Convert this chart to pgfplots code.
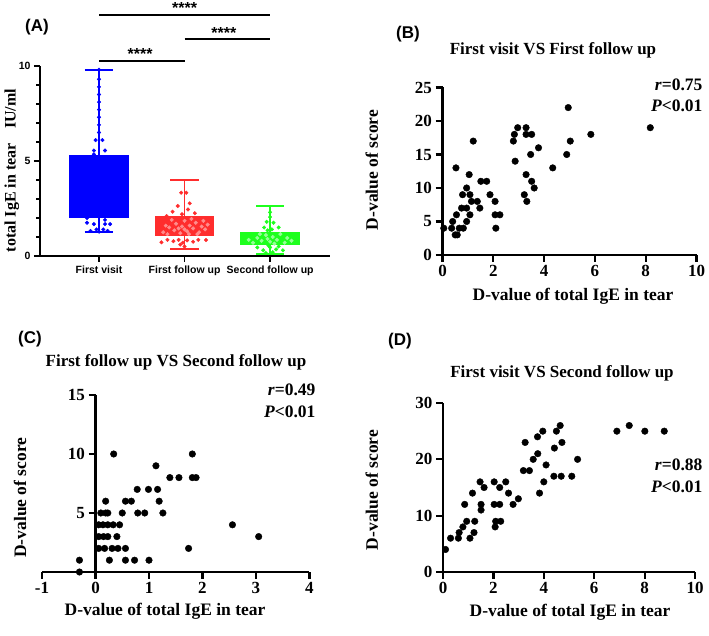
\documentclass[border=0pt]{standalone}
\usepackage{fontspec}
\setmainfont{Liberation Serif}
\newfontfamily\arialfont{Liberation Sans}
\usepackage{pgfplots}
\pgfplotsset{compat=1.18}
\usepgfplotslibrary{statistics}
\definecolor{pblue}{RGB}{0,0,255}
\definecolor{pred}{RGB}{255,45,45}
\definecolor{pgreen}{RGB}{30,255,30}
\definecolor{plred}{RGB}{255,140,140}
\definecolor{plgreen}{RGB}{150,255,150}
\pgfplotsset{
  scat/.style={scale only axis, anchor=south west, axis x line=bottom, axis y line=left,
    axis line style={-, line width=2.2pt}, tick align=outside, tick style={line width=2.2pt, black},
    major tick length=7pt, ticklabel style={font=\bfseries\fontsize{17}{19}\selectfont},
    clip=false},
  dots/.style={only marks, mark=*, mark size=3.3pt, black},
}
\begin{document}
\begin{tikzpicture}[x=1pt,y=1pt]
\useasboundingbox (0,0) rectangle (709,636);
% ---------------- Panel A
\begin{axis}[at={(40pt,380pt)}, anchor=south west, scale only axis, width=290pt, height=190pt,
  xmin=-0.69, xmax=2.7, ymin=0, ymax=10, boxplot/draw direction=y,
  axis x line=bottom, axis y line=left, axis line style={-, line width=1.8pt},
  tick align=outside, tick style={line width=1.5pt, black}, major tick length=6pt, minor tick length=3.5pt,
  xtick={0,1,2}, xticklabels={First visit, First follow up, Second follow up},
  ytick={0,5,10}, yticklabels={0,5,10}, minor ytick={1,2,3,4,6,7,8,9},
  ticklabel style={font=\arialfont\bfseries\fontsize{10.5}{12}\selectfont},
  ylabel={total IgE in tear\hspace{0.9em}IU/ml},
  every axis y label/.style={at={(axis description cs:-0.097,0.45)}, rotate=90, anchor=center, font=\bfseries\fontsize{16}{18}\selectfont},
  clip=false]
\addplot[boxplot prepared={lower whisker=1.28, lower quartile=2.07, median=3.5, upper quartile=5.26, upper whisker=9.79, draw position=0, box extend=0.675, whisker extend=0.33}, draw=pblue, fill=pblue, line width=1.8pt, solid] coordinates {};
\addplot[boxplot prepared={lower whisker=0.35, lower quartile=1.1, median=1.5, upper quartile=2.07, upper whisker=4.0, draw position=1, box extend=0.675, whisker extend=0.33}, draw=pred, fill=pred, line width=1.8pt, solid] coordinates {};
\addplot[boxplot prepared={lower whisker=0.1, lower quartile=0.62, median=0.9, upper quartile=1.23, upper whisker=2.65, draw position=2, box extend=0.675, whisker extend=0.33}, draw=pgreen, fill=pgreen, line width=1.8pt, solid] coordinates {};
% points
\addplot[only marks, mark=*, mark size=1.8pt, pblue] coordinates {
(0,9.8)(0,9.3)(0,8.9)(0,8.5)(0,8.1)(0,7.7)(0,7.3)(0,6.9)(0,6.5)(-0.04,6.1)(0.04,6.1)
(-0.06,5.55)(0.07,5.55)(-0.06,5.35)(0,3.0)(0.1,4.0)(-0.1,2.5)
(-0.14,2.0)(-0.14,1.75)(-0.06,1.68)(0.07,1.9)(0.13,1.68)(0.07,1.68)(-0.03,1.4)(0.05,1.4)(0,1.28)(-0.1,1.32)(0.1,1.32)};
\addplot[only marks, mark=*, mark size=1.8pt, plred] coordinates {
(0.75,1.25)(0.82,1.5)(0.88,1.35)(0.9,1.7)(0.95,1.2)(0.97,1.55)(1.0,1.85)(1.03,1.3)(1.06,1.6)(1.1,1.45)
(1.13,1.75)(1.17,1.25)(1.2,1.55)(1.24,1.4)(1.27,1.65)(0.78,1.6)(0.85,1.9)(1.08,1.95)(0.93,1.45)(1.15,1.15)
(0.8,1.15)(1.22,1.85)(1.0,1.4)(1.05,1.15)};
\addplot[only marks, mark=*, mark size=1.8pt, pred] coordinates {
(0.96,3.33)(1.02,3.33)(1.06,2.77)(0.92,2.63)(0.86,2.33)(1.12,2.25)(0.79,2.1)(0.97,2.2)(1.04,2.45)
(0.73,0.72)(0.8,0.85)(0.87,0.78)(0.93,0.85)(0.98,0.7)(1.03,0.82)(1.1,0.75)(1.16,0.85)(1.25,0.84)(1.0,0.5)(0.95,0.6)};
\addplot[only marks, mark=*, mark size=1.8pt, plgreen] coordinates {
(1.8,0.7)(1.85,0.95)(1.9,0.8)(1.95,1.1)(2.0,0.75)(2.03,1.0)(2.08,0.85)(2.12,1.15)(2.17,0.7)(2.2,0.95)
(1.88,1.15)(2.05,0.65)(1.97,0.9)(2.25,0.8)(1.75,0.85)};
\addplot[only marks, mark=*, mark size=1.8pt, pgreen] coordinates {
(2.0,2.3)(2.0,2.05)(1.96,1.8)(2.04,1.75)(1.93,1.5)(2.1,1.5)(2.02,1.4)(1.97,1.35)(1.85,0.45)(1.92,0.3)
(2.0,0.45)(2.07,0.35)(2.03,0.2)(1.95,0.15)(2.1,0.5)(1.98,0.55)(2.15,0.3)};
% significance bars
\addplot[black, line width=2pt, forget plot] coordinates {(0,12.68) (2,12.68)};
\addplot[black, line width=2pt, forget plot] coordinates {(1,11.4) (2,11.4)};
\addplot[black, line width=2pt, forget plot] coordinates {(0,10.28) (1,10.28)};
\node[anchor=south, inner sep=0pt, font=\arialfont\bfseries\fontsize{16}{18}\selectfont] at (axis cs:1,12.73) {****};
\node[anchor=south, inner sep=0pt, font=\arialfont\bfseries\fontsize{16}{18}\selectfont] at (axis cs:1.46,11.45) {****};
\node[anchor=south, inner sep=0pt, font=\arialfont\bfseries\fontsize{16}{18}\selectfont] at (axis cs:0.48,10.33) {****};
\end{axis}
% ---------------- Panel B
\begin{axis}[scat, at={(442.5pt,381pt)}, width=254pt, height=167.5pt,
  xmin=0, xmax=10, ymin=0, ymax=25,
  xtick={0,2,4,6,8,10}, xticklabels={0,2,4,6,8,10},
  ytick={0,5,10,15,20,25}, yticklabels={0,5,10,15,20,25},
  xlabel={D-value of total IgE in tear}, ylabel={D-value of score},
  every axis x label/.style={at={(axis description cs:0.514,-0.245)}, anchor=center, font=\bfseries\fontsize{17.5}{19}\selectfont},
  every axis y label/.style={at={(axis description cs:-0.278,0.507)}, rotate=90, anchor=center, font=\bfseries\fontsize{17.5}{19}\selectfont}]
\addplot[dots] coordinates {
(0.05,4)(0.36,4)(0.4,5)(0.53,13)(0.55,6)(0.5,3)(0.58,3)(0.66,4)(0.82,4)(0.75,7)(0.79,9)(0.95,7)(0.95,10)
(1.05,12)(1.08,9)(0.95,5)(1.08,6)(1.14,8)(1.21,17)(1.37,8)(1.47,7)(1.51,11)(1.74,11)(1.87,9)(2.07,8)(2.07,6)
(2.26,6)(2.1,4)(2.79,17)(2.83,18)(2.96,19)(2.86,14)(3.29,19)(3.29,18)(3.51,18)(3.78,16)(3.47,15)(3.29,12)
(3.51,11)(3.61,10)(3.22,9)(3.32,8)(4.34,13)(4.89,15)(5.03,17)(5.84,18)(8.18,19)(4.95,22)};
\end{axis}
% ---------------- Panel C
\begin{axis}[scat, at={(42pt,64pt)}, width=267.5pt, height=177pt,
  axis y line=middle, every inner y axis line/.append style={-}, axis line style={-},
  tick align=outside, hide obscured x ticks=false, hide obscured y ticks=false,
  xmin=-1, xmax=4, ymin=0, ymax=15,
  xtick={-1,0,1,2,3,4}, xticklabels={-1,0,1,2,3,4},
  ytick={0,5,10,15}, yticklabels={,5,10,15},
  xlabel={D-value of total IgE in tear}, ylabel={D-value of score},
  every axis x label/.style={at={(axis description cs:0.46,-0.22)}, anchor=center, font=\bfseries\fontsize{17.5}{19}\selectfont},
  every axis y label/.style={at={(axis description cs:-0.082,0.42)}, rotate=90, anchor=center, font=\bfseries\fontsize{17.5}{19}\selectfont}]
\addplot[dots] coordinates {
(-0.3,1)(-0.3,0)(0.34,10)(1.81,10)(1.13,9)(1.39,8)(1.56,8)(1.81,8)(1.88,8)(0.78,7)(0.99,7)(1.16,7)
(0.19,6)(0.56,6)(0.67,6)(1.19,6)(0.1,5)(0.19,5)(0.23,5)(0.5,5)(0.79,5)(0.92,5)(1.26,5)
(0.06,4)(0.14,4)(0.23,4)(0.33,4)(0.45,4)(2.56,4)(0.06,3)(0.15,3)(0.23,3)(0.4,3)(3.05,3)
(0.06,2)(0.17,2)(0.31,2)(0.42,2)(0.56,2)(1.74,2)(0.26,1)(0.56,1)(0.73,1)(1.0,1)};
\end{axis}
% ---------------- Panel D
\begin{axis}[scat, at={(443pt,64pt)}, width=252pt, height=169pt,
  xmin=0, xmax=10, ymin=0, ymax=30,
  xtick={0,2,4,6,8,10}, xticklabels={0,2,4,6,8,10},
  ytick={0,10,20,30}, yticklabels={0,10,20,30},
  xlabel={D-value of total IgE in tear}, ylabel={D-value of score},
  every axis x label/.style={at={(axis description cs:0.504,-0.237)}, anchor=center, font=\bfseries\fontsize{17.5}{19}\selectfont},
  every axis y label/.style={at={(axis description cs:-0.282,0.485)}, rotate=90, anchor=center, font=\bfseries\fontsize{17.5}{19}\selectfont}]
\addplot[dots] coordinates {
(0.1,4)(0.3,6)(0.61,6)(0.64,7)(0.79,8)(0.94,9)(1.07,6)(1.23,7)(1.26,9)(0.86,12)(1.17,14)(1.47,16)(1.63,15)
(1.51,12)(1.51,11)(2.03,16)(2.25,15)(2.49,16)(2.6,14)(2.03,12)(2.25,12)(2.09,9)(2.29,9)(2.07,8)(2.78,12)
(2.99,13)(3.26,23)(3.19,18)(3.43,18)(3.58,20)(3.76,21)(3.75,24)(3.96,25)(4.09,19)(3.83,14)(4.0,16)(4.42,22)
(4.4,17)(4.69,17)(4.5,25)(4.65,26)(4.72,23)(5.11,17)(5.34,20)(6.9,25)(7.39,26)(8.01,25)(8.78,25)};
\end{axis}
% ---------------- Texts
\node[font=\arialfont\bfseries\fontsize{17}{19}\selectfont] at (37,609) {(A)};
\node[font=\arialfont\bfseries\fontsize{17}{19}\selectfont] at (408,602) {(B)};
\node[font=\arialfont\bfseries\fontsize{17}{19}\selectfont] at (30,297) {(C)};
\node[font=\arialfont\bfseries\fontsize{17}{19}\selectfont] at (400,295) {(D)};
\node[font=\bfseries\fontsize{17}{19}\selectfont] at (553,586) {First visit VS First follow up};
\node[font=\bfseries\fontsize{17}{19}\selectfont] at (176,274) {First follow up VS Second follow up};
\node[font=\bfseries\fontsize{17}{19}\selectfont] at (562,263) {First visit VS Second follow up};
\node[anchor=east, font=\bfseries\fontsize{17.5}{19}\selectfont] at (706,551) {\textit{r}=0.75};
\node[anchor=east, font=\bfseries\fontsize{17.5}{19}\selectfont] at (706,530) {\textit{P}<0.01};
\node[anchor=east, font=\bfseries\fontsize{17.5}{19}\selectfont] at (319,246) {\textit{r}=0.49};
\node[anchor=east, font=\bfseries\fontsize{17.5}{19}\selectfont] at (319,224) {\textit{P}<0.01};
\node[anchor=east, font=\bfseries\fontsize{17.5}{19}\selectfont] at (706,171) {\textit{r}=0.88};
\node[anchor=east, font=\bfseries\fontsize{17.5}{19}\selectfont] at (706,149) {\textit{P}<0.01};
\end{tikzpicture}
\end{document}
